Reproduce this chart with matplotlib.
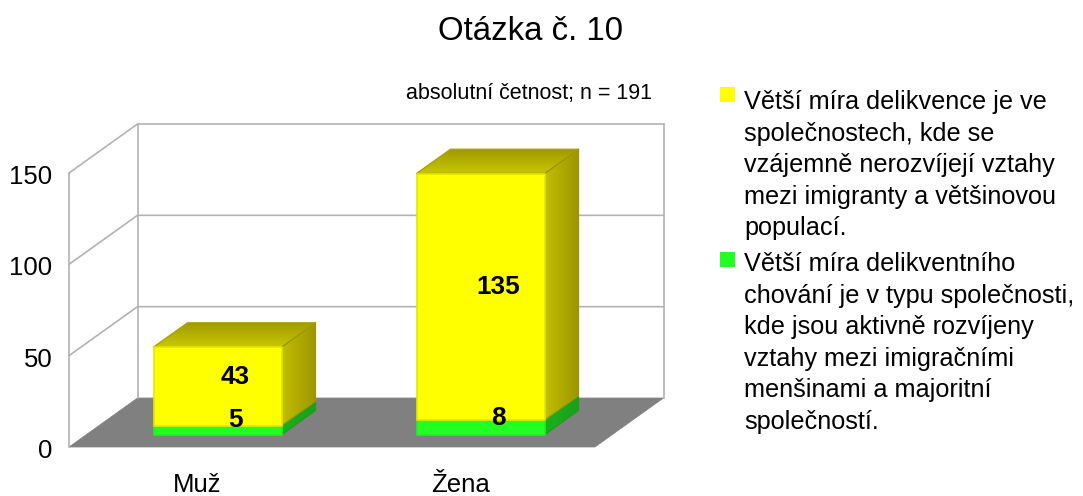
import numpy as np
import matplotlib
matplotlib.use("Agg")
import matplotlib.pyplot as plt
from matplotlib.colors import LinearSegmentedColormap
from matplotlib.patches import Polygon, Rectangle
from matplotlib.transforms import ScaledTranslation

categories = ["Muž", "Žena"]
green_values = [5, 8]
yellow_values = [43, 135]
y_ticks = [0, 50, 100, 150]
legend_labels = [
    "Větší míra delikvence je ve\nspolečnostech, kde se\nvzájemně nerozvíjejí vztahy\nmezi imigranty a většinovou\npopulací.",
    "Větší míra delikventního\nchování je v typu společnosti,\nkde jsou aktivně rozvíjeny\nvztahy mezi imigračními\nmenšinami a majoritní\nspolečností.",
]
title = "Otázka č. 10"
note = "absolutní četnost; n = 191"

W, H = 1083, 496
plt.rcParams["font.family"] = ["Liberation Sans", "DejaVu Sans"]
fig = plt.figure(figsize=(W / 100, H / 100), dpi=100, facecolor="white")
ax = fig.add_axes([69 / W, 1 - 447 / H, 526 / W, 274 / H])
ax.set_facecolor("none")
for s in ax.spines.values():
    s.set_visible(False)

DX, DY = 68.5 / 263, 49 / (274 / 150)   # projection of full floor depth
YMAX = 150
XMAX = len(categories)


def P(x, y, d=0.0):
    return (x + d * DX, y + d * DY)


def px_offset(dx, dy):
    return ScaledTranslation(dx / 100, dy / 100, fig.dpi_scale_trans)


GRID = "#b3b3b3"
# floor
ax.add_patch(Polygon([P(0, 0), P(XMAX, 0), P(XMAX, 0, 1), P(0, 0, 1)], fc="#808080", ec="#808080", lw=0.5, clip_on=False, zorder=1))
# walls + gridlines
for t in y_ticks[1:]:
    xs, ys = zip(P(0, t), P(0, t, 1), P(XMAX, t, 1))
    ax.plot(xs, ys, color=GRID, lw=1.2, clip_on=False, zorder=2)
for x, d, y0 in [(0, 0, 0), (0, 1, 0), (XMAX, 1, 0)]:
    xs, ys = zip(P(x, y0, d), P(x, YMAX, d))
    ax.plot(xs, ys, color=GRID, lw=1.2, clip_on=False, zorder=2)


def grad_face(pts, c0, c1, horizontal, z):
    pts = np.array(pts)
    cmap = LinearSegmentedColormap.from_list("g", [c0, c1])
    g = np.linspace(0, 1, 64)
    g = g[None, :] if horizontal else g[:, None]
    ext = [pts[:, 0].min(), pts[:, 0].max(), pts[:, 1].min(), pts[:, 1].max()]
    im = ax.imshow(g, cmap=cmap, extent=ext, origin="lower", aspect="auto", zorder=z, interpolation="bilinear")
    poly = Polygon(pts, transform=ax.transData, fc="none", ec="none")
    im.set_clip_path(poly)
    im.set_clip_box(fig.bbox)


BAR_W = 0.487
D0, D1 = 0.25, 0.745


def box(xc, y0, y1, front, edge, side0, side1, top, z):
    xl, xr = xc - BAR_W / 2, xc + BAR_W / 2
    grad_face([P(xr, y0, D0), P(xr, y0, D1), P(xr, y1, D1), P(xr, y1, D0)], side0, side1, True, z)
    if top:
        grad_face([P(xl, y1, D0), P(xr, y1, D0), P(xr, y1, D1), P(xl, y1, D1)], "#c8c800", "#a09a00", False, z + 0.1)
        ax.add_patch(Polygon([P(xl, y1, D0), P(xr, y1, D0), P(xr, y1, D1), P(xl, y1, D1)], fc="none", ec="#a8a400", lw=1, joinstyle="round", clip_on=False, zorder=z + 0.2))
    ax.add_patch(Polygon([P(xr, y0, D0), P(xr, y0, D1), P(xr, y1, D1), P(xr, y1, D0)], fc="none", ec=side1, lw=0.8, joinstyle="round", clip_on=False, zorder=z + 0.2))
    ax.add_patch(Rectangle(P(xl, y0, D0), BAR_W, y1 - y0, fc=front, ec=edge, lw=1.2, joinstyle="round", clip_on=False, zorder=z + 0.3))


for i, (g, y) in enumerate(zip(green_values, yellow_values)):
    xc = i + 0.5
    box(xc, 0, g, "#22ff22", "#22ee22", "#1cb01c", "#1aa01a", False, 10)
    box(xc, g, g + y, "#ffff00", "#e6e600", "#c2be00", "#9c9600", True, 11)
    DM = 0.52
    for v, base in [(y, g), (g, 0)]:
        ax.annotate(str(v), xy=P(xc, base + v / 2, DM), xytext=(-0.5, -2.5), textcoords="offset points",
                    ha="center", va="center", fontsize=18.8, fontweight="bold", color="black",
                    zorder=20, annotation_clip=False)

ax.set_xlim(0, XMAX)
ax.set_ylim(0, YMAX)
ax.set_xticks([i + 0.5 for i in range(len(categories))])
ax.set_xticklabels(categories, fontsize=18.5)
ax.set_yticks(y_ticks)
ax.set_yticklabels([str(t) for t in y_ticks], fontsize=18.5)
ax.tick_params(axis="both", length=0)
ax.tick_params(axis="x", pad=18.5)
ax.tick_params(axis="y", pad=12)
for lab in ax.get_xticklabels():
    lab.set_transform(lab.get_transform() + px_offset(-3.5, 0))
for lab in ax.get_yticklabels():
    lab.set_transform(lab.get_transform() + px_offset(0, -1.5))

fig.text(530 / W, 1 - 32 / H, title, ha="center", va="center", fontsize=23.8)
fig.text(652 / W, 1 - 93 / H, note, ha="right", va="center", fontsize=15.5)

colors = ["#ffff00", "#22ff22"]
tops = [90, 252]
for lab, c, top, sq in zip(legend_labels, colors, tops, [87, 252]):
    fig.add_artist(Rectangle((720 / W, 1 - (sq + 15) / H), 15 / W, 15 / H, transform=fig.transFigure, fc=c, ec="none"))
    fig.text(744 / W, 1 - top / H, lab, ha="left", va="top", fontsize=18.2, linespacing=1.395)

fig.savefig("out.png", dpi=100)
